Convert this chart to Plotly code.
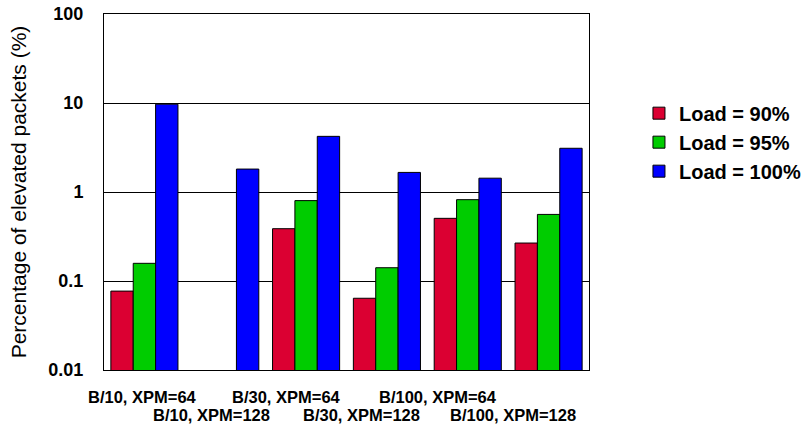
import plotly.graph_objects as go

categories = ["B/10, XPM=64", "B/10, XPM=128", "B/30, XPM=64",
              "B/30, XPM=128", "B/100, XPM=64", "B/100, XPM=128"]
load_90 = [0.077, None, 0.387, 0.064, 0.506, 0.267]
load_95 = [0.158, None, 0.80, 0.141, 0.82, 0.56]
load_100 = [9.7, 1.81, 4.22, 1.66, 1.43, 3.1]
series_names = ["Load = 90%", "Load = 95%", "Load = 100%"]
series_colors = ["#DB0032", "#00CC00", "#0000FF"]
y_tick_vals = [0.01, 0.1, 1, 10, 100]
y_tick_text = ["0.01", "0.1", "1", "10", "100"]

# label layout (pixel centers of staggered category labels)
label_centers_px = [142, 211, 286, 361, 438, 513]

W, H = 809, 427
L, R, T, B = 104, 220, 14, 57
plot_w = W - L - R

fig = go.Figure()
for name, vals, col in zip(series_names, [load_90, load_95, load_100], series_colors):
    fig.add_trace(go.Bar(
        x=categories, y=vals, name=name,
        marker=dict(color=col, line=dict(color="black", width=1)),
    ))

annotations = []
for i, (lab, cx) in enumerate(zip(categories, label_centers_px)):
    annotations.append(dict(
        text=lab, xref="paper", yref="paper",
        x=(cx - L) / plot_w, y=0, xanchor="center", yanchor="top",
        yshift=-16 if i % 2 == 0 else -34, showarrow=False,
        font=dict(family="Liberation Sans, Arial", size=16.5, color="black", weight="bold"),
    ))

fig.update_layout(
    width=W, height=H,
    margin=dict(l=L, r=R, t=T, b=B, autoexpand=False),
    paper_bgcolor="white", plot_bgcolor="white",
    barmode="group", bargap=0.17, bargroupgap=0,
    font=dict(family="Liberation Sans, Arial", color="black"),
    showlegend=True,
    legend=dict(
        x=1.103, y=0.64, xanchor="left", yanchor="middle",
        font=dict(size=20, weight="bold", color="black"),
        bgcolor="rgba(0,0,0,0)",
    ),
    annotations=annotations,
)
fig.update_xaxes(
    showticklabels=False, ticks="", automargin=False,
    showline=True, linecolor="black", linewidth=1, mirror=True,
    showgrid=False,
)
fig.update_yaxes(
    type="log", range=[-2, 2], automargin=False,
    tickvals=y_tick_vals, ticktext=y_tick_text, ticks="",
    ticklabelstandoff=16,
    tickfont=dict(size=18, weight="bold", color="black"),
    showline=True, linecolor="black", linewidth=1, mirror=True,
    showgrid=True, gridcolor="black", gridwidth=1,
    title=dict(text="Percentage of elevated packets (%)",
               font=dict(size=21, color="black"), standoff=16),
)

fig.write_html("out.html", config={"displayModeBar": False},
               post_script="document.body.style.margin='0';document.body.style.overflow='hidden';")
